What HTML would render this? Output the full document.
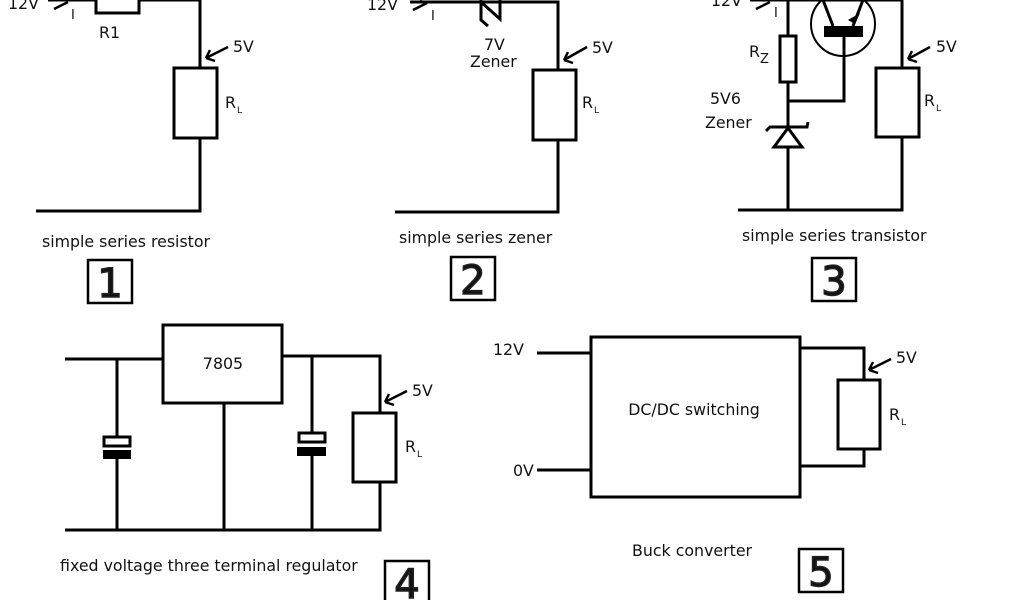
<!DOCTYPE html>
<html><head><meta charset="utf-8"><style>
html,body{margin:0;padding:0;background:#fff}
svg{display:block}
text{font-family:"DejaVu Sans","Liberation Sans",sans-serif;fill:#111}
</style></head><body>
<svg width="1024" height="600" viewBox="0 0 1024 600" xmlns="http://www.w3.org/2000/svg">
<g fill="none" stroke="#000" stroke-width="3">
<!-- Circuit 1 -->
<polyline points="48,0 96,0"/>
<rect x="96" y="-10" width="43" height="23"/>
<polyline points="139,0 200,0 200,68"/>
<rect x="174" y="68" width="43" height="70"/>
<polyline points="200,138 200,211 36,211"/>
<path d="M54,9 L68,2" stroke-width="2.5"/>
<path d="M228,47 L206,58 M206,58 L210,50 M206,58 L215,61" stroke-width="2.5"/>
<rect x="88" y="260" width="44" height="43" stroke-width="2.5"/>
<!-- Circuit 2 -->
<polyline points="410,2 558,2 558,70"/>
<path d="M481,-8 L481,20 L488,26 M481,2 L500,19 L500,-8"/>
<path d="M413,10 L427,3 M420,1 L427,3" stroke-width="2.5"/>
<rect x="533" y="70" width="43" height="70"/>
<polyline points="558,140 558,212 395,212"/>
<path d="M587,47 L564,60 M564,60 L568,52 M564,60 L573,63" stroke-width="2.5"/>
<rect x="451" y="257" width="44" height="43" stroke-width="2.5"/>
<!-- Circuit 3 -->
<polyline points="750,0 902,0 902,68"/>
<path d="M756,9 L770,2" stroke-width="2.5"/>
<line x1="788" y1="0" x2="788" y2="36"/>
<rect x="780" y="36" width="16" height="46"/>
<polyline points="788,82 788,128"/>
<polyline points="788,101 844,101 844,37"/>
<path d="M766,131 L770,127 L807,127 L808,122"/>
<polygon points="788,128 774,147 802,147"/>
<polyline points="788,147 788,210"/>
<circle cx="843" cy="24" r="32" stroke-width="2"/>
<path d="M823,0 L833,26 M863,0 L853,26"/>
<rect x="876" y="68" width="43" height="69"/>
<polyline points="902,137 902,210 738,210"/>
<path d="M930,47 L908,59 M908,59 L912,51 M908,59 L917,62" stroke-width="2.5"/>
<rect x="812" y="258" width="44" height="43" stroke-width="2.5"/>
<!-- Circuit 4 -->
<polyline points="65,359 163,359"/>
<rect x="163" y="325" width="119" height="78"/>
<polyline points="282,356 380,356 380,413"/>
<rect x="353" y="413" width="43" height="69"/>
<polyline points="380,482 380,530 65,530"/>
<line x1="117" y1="359" x2="117" y2="437"/>
<line x1="117" y1="459" x2="117" y2="530"/>
<rect x="104" y="437" width="26" height="9"/>
<line x1="224" y1="403" x2="224" y2="530"/>
<line x1="312" y1="356" x2="312" y2="433"/>
<line x1="312" y1="456" x2="312" y2="530"/>
<rect x="299" y="433" width="26" height="9"/>
<path d="M407,391 L385,402 M385,402 L389,394 M385,402 L394,405" stroke-width="2.5"/>
<rect x="385" y="561" width="44" height="43" stroke-width="2.5"/>
<!-- Circuit 5 -->
<rect x="591" y="337" width="209" height="160"/>
<line x1="537" y1="353" x2="591" y2="353"/>
<line x1="537" y1="470" x2="592" y2="470"/>
<polyline points="800,348 864,348 864,380"/>
<rect x="838" y="380" width="42" height="69"/>
<polyline points="864,449 864,466 800,466"/>
<path d="M891,359 L869,370 M869,370 L873,362 M869,370 L878,373" stroke-width="2.5"/>
<rect x="799" y="549" width="44" height="43" stroke-width="2.5"/>
</g>
<g fill="#000">
<rect x="103" y="450" width="28" height="9"/>
<rect x="297" y="447" width="29" height="9"/>
<rect x="824" y="26" width="39" height="11"/>
<polygon points="848,20 860,13 855,24"/>
</g>
<g font-size="15.8">
<text x="8" y="9">12V</text>
<text x="71" y="19" font-size="13">I</text>
<text x="99" y="38">R1</text>
<text x="233" y="52">5V</text>
<text x="225" y="108">R</text><text x="237" y="113" font-size="9">L</text>
<text x="42" y="247">simple series resistor</text>
<text x="367" y="10">12V</text>
<text x="431" y="20" font-size="13">I</text>
<text x="484" y="50">7V</text>
<text x="470" y="67">Zener</text>
<text x="592" y="53">5V</text>
<text x="582" y="108">R</text><text x="594" y="113" font-size="9">L</text>
<text x="399" y="243">simple series zener</text>
<text x="711" y="6">12V</text>
<text x="774" y="17" font-size="13">I</text>
<text x="749" y="57">R</text><text x="760" y="63" font-size="13">Z</text>
<text x="710" y="104">5V6</text>
<text x="705" y="128">Zener</text>
<text x="936" y="52">5V</text>
<text x="924" y="106">R</text><text x="936" y="111" font-size="9">L</text>
<text x="742" y="241">simple series transistor</text>
<text x="223" y="369" text-anchor="middle">7805</text>
<text x="412" y="396">5V</text>
<text x="405" y="452">R</text><text x="417" y="457" font-size="9">L</text>
<text x="60" y="571">fixed voltage three terminal regulator</text>
<text x="493" y="355">12V</text>
<text x="513" y="476">0V</text>
<text x="694" y="415" text-anchor="middle">DC/DC switching</text>
<text x="896" y="363">5V</text>
<text x="889" y="420">R</text><text x="901" y="425" font-size="9">L</text>
<text x="632" y="556">Buck converter</text>
</g>
<g font-size="40" text-anchor="middle" stroke="#222" stroke-width="1.5">
<text x="110" y="297">1</text>
<text x="473" y="294">2</text>
<text x="834" y="295">3</text>
<text x="407" y="598">4</text>
<text x="821" y="586">5</text>
</g>
</svg>
</body></html>
